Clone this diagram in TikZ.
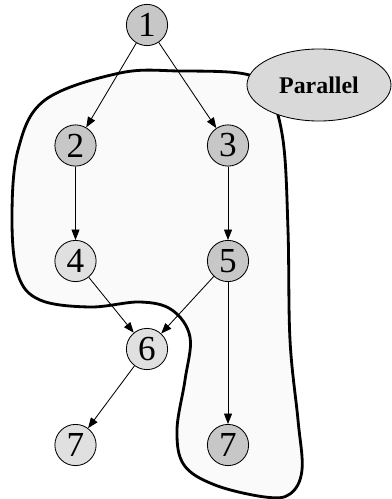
\documentclass[tikz,border=0pt]{standalone}
\usepackage{fontspec}
\setmainfont{Liberation Serif}
\usepackage{tikz}
\usetikzlibrary{arrows.meta,shapes.geometric}
\tikzset{
  task/.style={draw,circle,minimum size=1.03cm,inner sep=0pt,line width=0.6pt,font=\fontsize{25}{25}\selectfont},
  dark/.style={task,fill=black!22},
  light/.style={task,fill=black!12},
  arr/.style={-{Triangle[length=0.26cm,width=0.2cm]},line width=0.6pt},
  region/.style={line width=2pt,fill=black!2},
  tag/.style={draw,ellipse,fill=black!15,minimum width=3.6cm,minimum height=1.8cm,inner sep=0pt,line width=0.6pt,font=\fontsize{17}{17}\selectfont\bfseries},
}
\begin{document}
\begin{tikzpicture}[x=0.025cm,y=-0.025cm]
\useasboundingbox (0,0) rectangle (391,499);
% parallel region
\draw[region] plot[smooth cycle,tension=0.6] coordinates {
  (120,73) (180,71) (245,74) (268,90) (283,140) (288,230) (290,340)
  (298,420) (302,470) (290,494) (265,497) (215,485) (184,465) (177,430)
  (185,380) (190,337) (172,310) (140,302) (90,307) (40,300) (18,275)
  (12,220) (18,150) (45,100)};
\node[tag] (par) at (319,85) {Parallel};
% tasks
\node[dark] (n1) at (147,25) {1};
\node[dark] (n2) at (75.5,145.5) {2};
\node[dark] (n3) at (228,145.5) {3};
\node[light] (n4) at (75.5,261) {4};
\node[dark] (n5) at (228,261) {5};
\node[light] (n6) at (147,349) {6};
\node[light] (n7a) at (75.5,445) {7};
\node[dark] (n7b) at (228,445) {7};
\foreach \a/\b in {n1/n2,n1/n3,n2/n4,n3/n5,n4/n6,n5/n6,n5/n7b,n6/n7a} {\draw[arr] (\a)--(\b);}
\end{tikzpicture}
\end{document}
